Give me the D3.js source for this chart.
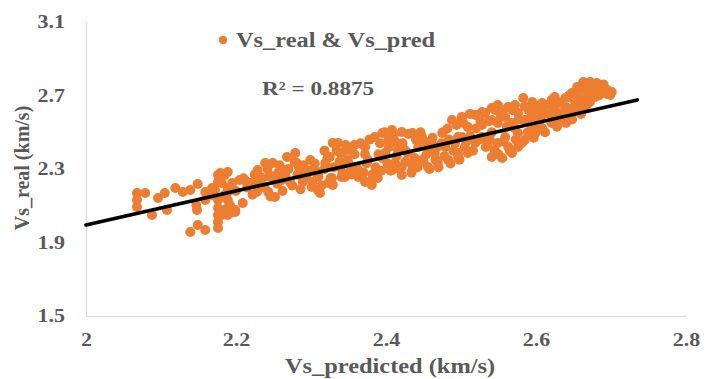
<!DOCTYPE html>
<html>
<head>
<meta charset="utf-8">
<title>Vs_real vs Vs_pred</title>
<script src="https://cdn.jsdelivr.net/npm/d3@7"></script>
<style>
body { margin:0; background:#fff; }
svg text { font-family:"Liberation Serif","Times New Roman",serif; font-weight:bold; fill:#595959; }
</style>
</head>
<body>
<div id="chart"></div>
<script>
// x: Vs_predicted (km/s), y: Vs_real (km/s)
var vsPred = [
  2.068,2.079,2.068,2.068,2.088,2.096,2.105,2.108,2.119,2.129,2.139,2.149,2.147,2.148,2.159,2.168,
  2.139,2.149,2.159,2.159,2.168,2.172,
  2.176,2.185,2.176,2.176,2.176,2.176,2.176,2.176,2.185,2.189,2.192,2.195,2.185,2.199,2.189,
  2.179,2.189,2.181,2.195,2.189,2.189,2.189,2.199,2.181,2.209,2.219,2.228,2.229,2.239,2.249,2.243,
  2.252,2.256,2.265,2.268,2.279,2.281,2.272,2.288,2.289,2.299,2.301,2.309,2.309,2.319,2.325,2.329,
  2.339,2.328,2.341,2.323,2.309,2.205,2.235,2.261,2.285,
  2.312,2.329,2.381,2.372,
  2.336,2.341,2.339,2.349,2.349,2.345,2.359,2.363,2.372,2.376,2.381,2.389,2.385,2.395,2.403,2.408,
  2.421,2.435,2.448,2.461,2.475,2.488,2.501,2.399,2.412,2.421,2.435,2.448,2.456,2.469,2.483,2.496,
  2.416,2.429,2.443,2.456,2.465,2.479,2.492,2.501,2.408,2.421,2.435,2.395,
  2.541,2.549,2.563,2.572,2.583,2.595,2.608,2.621,2.625,2.639,2.648,2.656,2.663,
  2.501,2.519,2.532,2.541,2.559,2.576,2.595,2.608,2.625,2.639,2.652,
  2.509,2.528,2.549,2.568,2.585,2.603,2.621,2.635,2.652,2.661,
  2.496,2.505,2.519,2.528,2.536,2.545,2.541,2.555,2.568,2.576,2.585,2.599,2.608,2.621,2.635,2.648,
  2.559,2.576,2.549,2.563,2.595,2.496,2.509,
  2.655,2.663,2.672,2.681,2.688,2.695,2.701,2.699,2.679,2.672,2.663,2.655,2.649,2.659,2.665,2.676,2.668,
  2.200,2.210,2.215,2.222,2.225,2.232,2.238,2.242,2.246,2.250,2.255,2.258,2.262,2.266,2.270,2.275,
  2.278,2.282,2.286,2.290,2.294,2.298,2.302,
  2.305,2.310,2.314,2.318,2.322,2.326,2.330,2.334,2.338,2.342,2.346,2.350,2.354,2.358,2.362,2.366,
  2.370,2.374,2.378,2.382,2.386,2.390,2.394,2.398,
  2.402,2.406,2.410,2.414,2.418,2.422,2.426,2.430,2.434,2.438,2.442,2.446,2.450,2.454,2.458,2.462,
  2.466,2.470,2.474,2.478,2.482,2.486,2.490,2.494,2.498,
  2.503,2.507,2.512,2.516,2.520,2.524,2.528,2.533,2.537,2.541,2.546,2.550,2.553,2.557,2.561,2.565,
  2.569,2.573,2.577,2.581,2.585,2.589,2.593,2.597,2.600,
  2.604,2.608,2.612,2.616,2.620,2.624,2.628,2.632,2.636,2.640,2.644,2.648,2.652,2.656,2.660,2.664,
  2.668,2.672,2.676,2.680,2.684,2.690,2.694,
  2.452,2.468,2.484,2.512,2.526,2.538,2.556,2.572,2.590,2.606,2.618,2.630,2.642,2.650,2.358,2.372,
  2.392,2.404,2.426,2.440,2.318,2.300,2.284,2.262,2.244,2.228,2.214,2.352,2.412,2.476
];
var vsReal = [
  2.169,2.169,2.131,2.093,2.050,2.142,2.169,2.077,2.197,2.175,2.186,2.218,2.104,2.077,2.175,2.197,
  1.957,1.995,1.968,2.131,2.159,2.186,
  2.267,2.267,2.229,2.131,2.088,2.050,2.012,1.979,2.159,2.197,2.104,2.066,2.077,2.077,2.050,
  2.278,2.284,2.224,2.224,2.175,2.131,2.088,2.066,2.050,2.115,2.224,2.175,2.295,2.333,2.333,2.175,
  2.148,2.278,2.295,2.365,2.387,2.333,2.229,2.295,2.229,2.349,2.202,2.186,2.284,2.333,2.365,2.442,
  2.387,2.251,2.256,2.224,2.256,2.240,2.251,2.240,2.267,
  2.169,2.213,2.213,2.229,
  2.442,2.387,2.311,2.403,2.349,2.256,2.311,2.256,2.420,2.349,2.240,2.251,2.474,2.496,2.458,2.512,
  2.501,2.496,2.474,2.442,2.496,2.567,2.578,2.387,2.333,2.311,2.322,2.349,2.311,2.333,2.349,2.365,
  2.403,2.387,2.420,2.403,2.387,2.420,2.442,2.474,2.295,2.267,2.295,2.360,
  2.632,2.648,2.637,2.648,2.686,2.665,2.659,2.676,2.692,2.686,2.714,2.746,2.768,
  2.583,2.594,2.605,2.567,2.583,2.605,2.605,2.621,2.632,2.637,2.676,
  2.529,2.539,2.550,2.550,2.567,2.567,2.583,2.605,2.621,2.659,
  2.474,2.420,2.442,2.474,2.442,2.403,2.365,2.360,2.387,2.420,2.458,2.496,2.523,2.550,2.567,2.605,
  2.474,2.496,2.442,2.420,2.529,2.387,2.387,
  2.746,2.773,2.773,2.768,2.746,2.730,2.719,2.703,2.692,2.665,2.676,2.659,2.621,2.621,2.637,2.719,2.719,
  2.180,2.250,2.200,2.160,2.270,2.240,2.200,2.300,2.150,2.260,2.220,2.320,2.180,2.260,2.300,2.210,
  2.340,2.270,2.190,2.320,2.250,2.290,2.230,
  2.330,2.260,2.210,2.300,2.360,2.250,2.310,2.400,2.340,2.280,2.430,2.330,2.270,2.380,2.300,2.440,
  2.280,2.330,2.460,2.270,2.310,2.380,2.290,2.500,
  2.330,2.290,2.480,2.370,2.300,2.440,2.340,2.490,2.280,2.360,2.310,2.500,2.340,2.380,2.300,2.470,
  2.350,2.310,2.440,2.370,2.520,2.330,2.400,2.540,2.350,
  2.550,2.450,2.600,2.400,2.520,2.460,2.610,2.420,2.560,2.500,2.620,2.380,2.590,2.450,2.530,2.400,
  2.620,2.460,2.570,2.440,2.640,2.500,2.580,2.470,2.640,
  2.540,2.590,2.500,2.650,2.560,2.610,2.530,2.660,2.590,2.550,2.700,2.570,2.640,2.700,2.600,2.740,
  2.650,2.690,2.750,2.720,2.700,2.760,2.710,
  2.450,2.420,2.460,2.480,2.560,2.470,2.620,2.520,2.620,2.620,2.600,2.580,2.630,2.680,2.430,2.380,
  2.440,2.420,2.400,2.460,2.400,2.290,2.310,2.290,2.260,2.220,2.230,2.290,2.450,2.500
];
var xTicks = [2, 2.2, 2.4, 2.6, 2.8];
var yTicks = [1.5, 1.9, 2.3, 2.7, 3.1];
// linear trend line (Excel style), endpoints
var trendX = [2, 2.735];
var trendY = [1.995, 2.676];
var seriesName = "Vs_real & Vs_pred";
var r2Label = "R\u00b2 = 0.8875";

var width = 707, height = 379;
var margin = {left: 86, right: 21, top: 22, bottom: 63};
var stretch = 1.22; // text in the picture is widened horizontally

var svg = d3.select('#chart').append('svg')
    .attr('width', width)
    .attr('height', height);

var x = d3.scaleLinear().domain([2, 2.8]).range([margin.left, width - margin.right]);
var y = d3.scaleLinear().domain([1.5, 3.1]).range([height - margin.bottom, margin.top]);

// axes: only the light grey baseline, bold grey labels
var xAxis = svg.append('g')
    .attr('transform', 'translate(0,' + y(1.5) + ')')
    .call(d3.axisBottom(x).tickValues(xTicks).tickSize(0).tickPadding(17).tickFormat(d3.format('')));
var yAxis = svg.append('g')
    .attr('transform', 'translate(' + x(2) + ',0)')
    .call(d3.axisLeft(y).tickValues(yTicks).tickSize(0).tickPadding(21).tickFormat(d3.format('.1f')));

[xAxis, yAxis].forEach(function(g) {
    g.select('.domain').attr('stroke', '#d9d9d9').attr('stroke-width', 1.2);
    g.selectAll('text').attr('font-size', 18).attr('fill', '#595959')
        .style('font-family', '"Liberation Serif","Times New Roman",serif').style('font-weight', 'bold')
        .attr('transform', 'scale(' + stretch + ',1)');
});
yAxis.selectAll('text').attr('x', -21 / stretch);

var points = vsPred.map(function(d, i) { return {x: d, y: vsReal[i]}; });

svg.append('g').selectAll('circle')
    .data(points)
    .enter().append('circle')
    .attr('cx', function(d) { return x(d.x); })
    .attr('cy', function(d) { return y(d.y); })
    .attr('r', 5)
    .attr('fill', '#ED7D31');

svg.append('line')
    .attr('x1', x(trendX[0])).attr('y1', y(trendY[0]))
    .attr('x2', x(trendX[1])).attr('y2', y(trendY[1]))
    .attr('stroke', '#000')
    .attr('stroke-width', 3.6)
    .attr('stroke-linecap', 'round');

function wideText(px, py, size, str, anchor) {
    return svg.append('text')
        .attr('transform', 'translate(' + px + ',' + py + ') scale(' + stretch + ',1)')
        .attr('font-size', size)
        .attr('text-anchor', anchor || 'start')
        .text(str);
}

// legend
svg.append('circle').attr('cx', 223).attr('cy', 40).attr('r', 4.2).attr('fill', '#ED7D31');
wideText(236, 47, 20, seriesName);
wideText(262, 95, 19, r2Label);

// axis titles
wideText(390, 373, 20, 'Vs_predicted (km/s)', 'middle');
svg.append('text')
    .attr('transform', 'translate(29,' + 168 + ') rotate(-90)')
    .attr('text-anchor', 'middle').attr('font-size', 20)
    .text('Vs_real (km/s)');
</script>
</body>
</html>
